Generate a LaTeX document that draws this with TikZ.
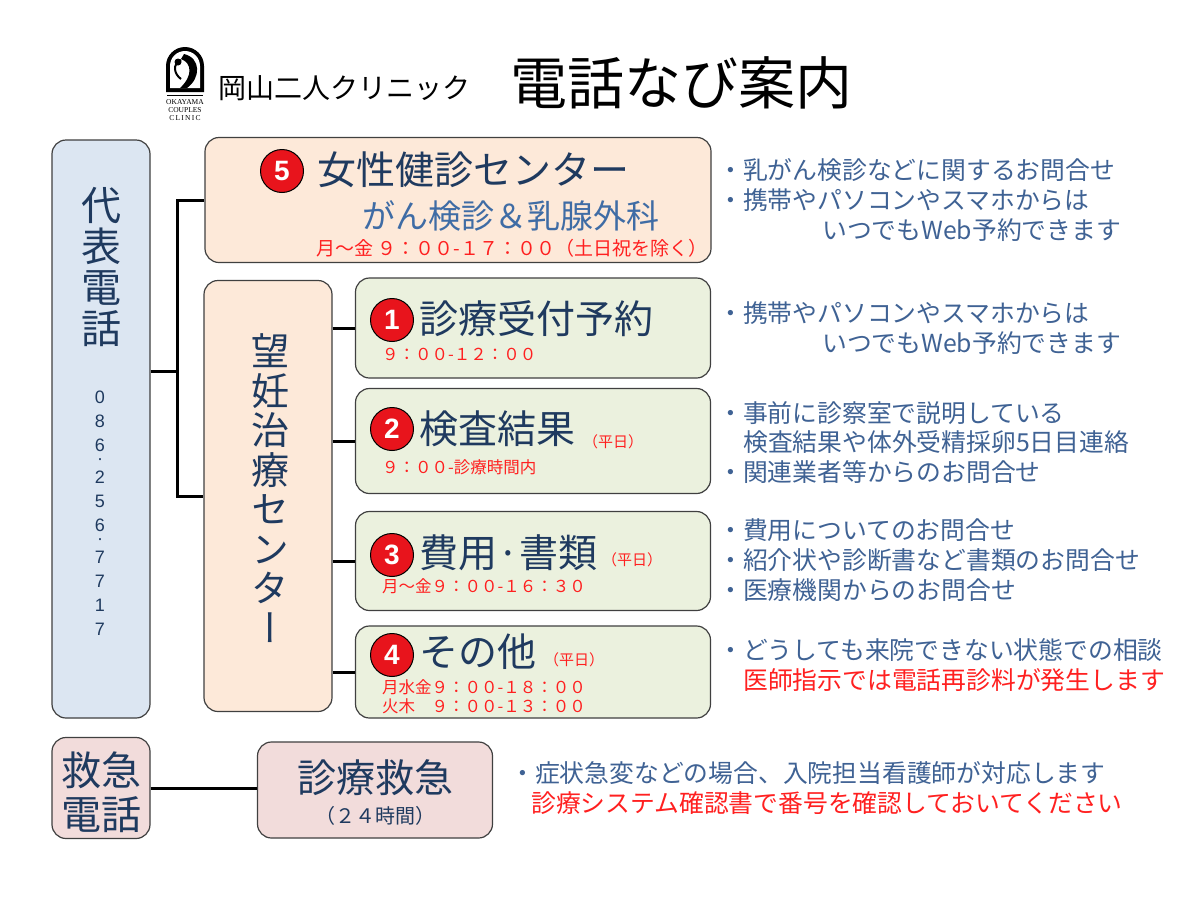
\documentclass[tikz,border=0pt]{standalone}
\usepackage{fontspec}
\setmainfont{Noto Sans CJK JP}
\newfontfamily\vertfont[RawFeature={+vert}]{Noto Sans CJK JP}
\newfontfamily\numfont{Liberation Sans}
\newfontfamily\logofont{Liberation Serif}
\newcommand{\sz}[1]{\fontsize{#1}{#1}\selectfont}

\definecolor{navy}{HTML}{1F3A5F}
\definecolor{bultext}{HTML}{3F6294}
\definecolor{subblue}{HTML}{3F6CA5}
\definecolor{timered}{HTML}{FF2020}
\definecolor{numred}{HTML}{E8141C}
\definecolor{boxline}{HTML}{404040}
\definecolor{bluefill}{HTML}{DCE6F2}
\definecolor{peachfill}{HTML}{FDE9D9}
\definecolor{greenfill}{HTML}{EBF1DE}
\definecolor{pinkfill}{HTML}{F2DCDB}

\begin{document}
\begin{tikzpicture}[x=1pt,y=-1pt,
  box/.style={draw=boxline,line width=1.2pt,rounded corners=14pt,inner sep=0pt},
  num/.style={circle,fill=numred,draw=black,line width=1pt,minimum size=43pt,
    inner sep=0pt,text=white,font=\numfont\bfseries\sz{28}},
  conn/.style={line width=3pt},
  lbl/.style={anchor=west,inner sep=0pt},
  head/.style={lbl,text=navy,font=\sz{39}},
  hours/.style={lbl,text=timered,font=\sz{16.5}},
  weekday/.style={lbl,text=timered,font=\sz{15}},
  bul/.style={lbl,text=bultext,font=\sz{24.8}},
  warn/.style={lbl,text=timered,font=\sz{24.8}}]
  \useasboundingbox (0,0) rectangle (1200,900);
  \fill[white] (0,0) rectangle (1200,900);

  % logo and title
  \fill[black] (166,92) -- (166,66) arc[start angle=180,end angle=360,radius=19] -- (204,92) -- cycle;
  \fill[white] (170,88) -- (170,66) arc[start angle=180,end angle=360,radius=15] -- (200,88) -- cycle;
  \fill[black] (184,54) .. controls (201,58) and (201,78) .. (187,88) -- (180,88)
    .. controls (193,76) and (192,63) .. (181,59) -- cycle;
  \draw[line width=2pt] (181,60) .. controls (172,64) and (174,74) .. (181,79);
  \fill[black] (178,62) circle (3.5);
  \draw[line width=1pt] (167,95) -- (203,95);
  \node[font=\logofont\sz{7.5}] (lg1) at (185,102) {OKAYAMA};
  \node[font=\logofont\sz{7.5}] (lg2) at (185,110) {COUPLES};
  \node[font=\logofont\sz{7.5}] (lg3) at (185,118) {C\,L\,I\,N\,I\,C};
  \node[lbl,font=\sz{28}] (clinic) at (218,88) {岡山二人クリニック};
  \node[lbl,font=\sz{57}] (title) at (510,83) {電話なび案内};

  % boxes
  \node[box,fill=bluefill,minimum width=98,minimum height=578] (daihyo) at (101,429) {};
  \node[box,fill=peachfill,minimum width=506,minimum height=125] (josei) at (458,200) {};
  \node[box,fill=peachfill,minimum width=128,minimum height=431] (ninin) at (268,496) {};
  \node[box,fill=greenfill,minimum width=355,minimum height=100] (b1) at (533,328) {};
  \node[box,fill=greenfill,minimum width=355,minimum height=105] (b2) at (533,441) {};
  \node[box,fill=greenfill,minimum width=355,minimum height=99] (b3) at (533,561) {};
  \node[box,fill=greenfill,minimum width=355,minimum height=92] (b4) at (533,672) {};
  \node[box,fill=pinkfill,minimum width=98,minimum height=101] (kyukyu) at (101,788) {};
  \node[box,fill=pinkfill,minimum width=235,minimum height=96] (shinryo) at (375,790) {};

  % connectors
  \coordinate (jmid) at (177,371);
  \coordinate (jtop) at (177,200);
  \coordinate (jbot) at (177,496);
  \draw[conn] (jmid -| daihyo.east) -- (jmid);
  \draw[conn] (josei.west) -- (jtop) -- (jbot) -- (ninin.west);
  \foreach \b in {b1,b2,b3,b4}
    \draw[conn] (ninin.east |- \b.west) -- (\b.west);
  \draw[conn] (kyukyu.east) -- (kyukyu.east -| shinryo.west);

  % left column
  \node[align=center,inner sep=0pt,text=navy,font=\vertfont\fontsize{40}{41}\selectfont]
    (daihyotxt) at (101,267) {代\\表\\電\\話};
  \node[align=center,inner sep=0pt,text=navy,font=\numfont\fontsize{18}{24}\selectfont]
    (phone) at (100,513.5) {0\\8\\6\\[-11pt]·\\[-5pt]2\\5\\6\\[-11pt]·\\[-5pt]7\\7\\1\\7};
  \node[align=center,inner sep=0pt,text=navy,font=\vertfont\fontsize{38}{39.5}\selectfont]
    (nintxt) at (270,488) {望\\妊\\治\\療\\セ\\ン\\タ\\ー};
  \node[align=center,inner sep=0pt,text=navy,font=\fontsize{40}{44}\selectfont]
    (kyutxt) at (101,792) {救急\\電話};

  % women's health centre
  \node[num] (n5) at (282,171) {5};
  \node[head] (h5) at (317,170) {女性健診センター};
  \node[lbl,text=subblue,font=\sz{33}] (s5) at (362,216) {がん検診＆乳腺外科};
  \node[lbl,text=timered,font=\sz{19}] (t5) at (316,248) {月～金 ９：００-１７：００（土日祝を除く）};

  % fertility centre boxes
  \node[num] (n1) at (392,320) {1};
  \node[head] (h1) at (419,319) {診療受付予約};
  \node[hours] (t1) at (382,354) {９：００-１２：００};
  \node[num] (n2) at (392,429) {2};
  \node[head] (h2) at (419,429) {検査結果};
  \node[weekday] (w2) at (583,442) {（平日）};
  \node[hours] (t2) at (382,467) {９：００-診療時間内};
  \node[num] (n3) at (392,555) {3};
  \node[head] (h3) at (419,553) {費用·書類};
  \node[weekday] (w3) at (602,560) {（平日）};
  \node[hours] (t3) at (382,586) {月～金９：００-１６：３０};
  \node[num] (n4) at (392,655) {4};
  \node[head] (h4) at (419,652) {その他};
  \node[weekday] (w4) at (544,660) {（平日）};
  \node[hours] (t4a) at (382,687) {月水金９：００-１８：００};
  \node[hours] (t4b) at (382,706) {火木　９：００-１３：００};

  % emergency
  \node[inner sep=0pt,text=navy,font=\sz{39}] (h6) at (375,778) {診療救急};
  \node[inner sep=0pt,text=navy,font=\sz{20}] (t6) at (375,816) {（２４時間）};

  % notes
  \node[bul] (r5a) at (718,170) {・乳がん検診などに関するお問合せ};
  \node[bul] (r5b) at (718,200) {・携帯やパソコンやスマホからは};
  \node[bul] (r5c) at (822,230) {いつでもWeb予約できます};
  \node[bul] (r1a) at (718,313) {・携帯やパソコンやスマホからは};
  \node[bul] (r1b) at (822,343) {いつでもWeb予約できます};
  \node[bul] (r2a) at (718,413) {・事前に診察室で説明している};
  \node[bul] (r2b) at (743,442) {検査結果や体外受精採卵5日目連絡};
  \node[bul] (r2c) at (718,472) {・関連業者等からのお問合せ};
  \node[bul] (r3a) at (718,530) {・費用についてのお問合せ};
  \node[bul] (r3b) at (718,560) {・紹介状や診断書など書類のお問合せ};
  \node[bul] (r3c) at (718,590) {・医療機関からのお問合せ};
  \node[bul] (r4a) at (718,650) {・どうしても来院できない状態での相談};
  \node[warn] (r4b) at (743,680) {医師指示では電話再診料が発生します};
  \node[bul] (r6a) at (510,773) {・症状急変などの場合、入院担当看護師が対応します};
  \node[warn] (r6b) at (531,803) {診療システム確認書で番号を確認しておいてください};
\end{tikzpicture}
\end{document}
